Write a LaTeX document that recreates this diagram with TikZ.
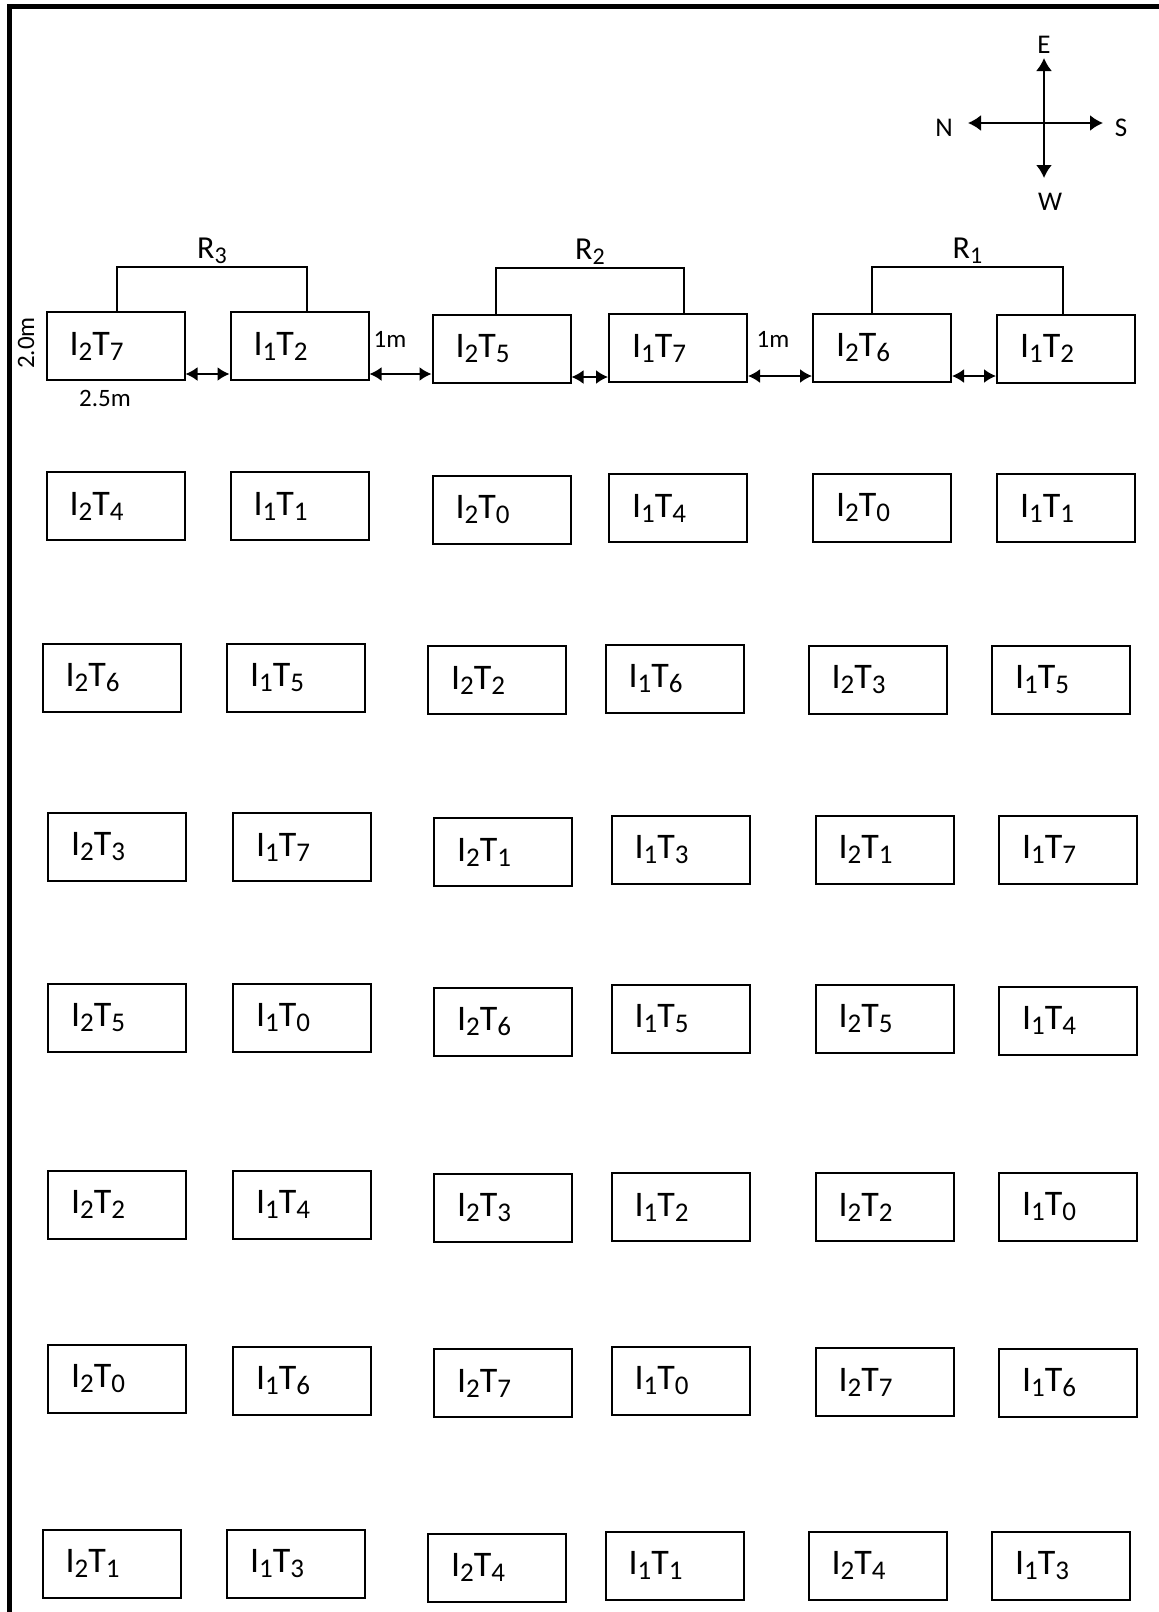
\documentclass[tikz,border=0pt]{standalone}
\usepackage{fontspec}
\setmainfont{Carlito}
\usetikzlibrary{arrows.meta,positioning,calc}
\newcommand{\sub}[2][13.5]{\raisebox{-2.5pt}{\fontsize{#1}{#1}\selectfont #2}}
\newcommand{\plt}[2]{I\sub{#1}T\sub{#2}}

\begin{document}
\begin{tikzpicture}[
  x=0.5pt, y=-0.5pt,
  every node/.style={font=\fontsize{12.5}{14}\selectfont},
  plot/.style={draw,line width=1pt,minimum width=69pt,minimum height=34pt,inner xsep=11.5pt,text width=46pt,align=left,font=\fontsize{18}{20}\selectfont},
  rep/.style={pos=0.25,above,inner sep=1.5pt,font=\fontsize{16}{18}\selectfont},
  dim/.style={{Latex[length=6pt,width=7pt]}-{Latex[length=6pt,width=7pt]},line width=1pt},
  brk/.style={line width=0.8pt},
  cmp/.style={-{Latex[length=6.5pt,width=8pt]},line width=1pt}
]
\useasboundingbox (0,0) rectangle (1159,1612);
\draw[line width=2.5pt] (9.5,1612) -- (9.5,6.5) -- (1159,6.5);

% plots, row by row
\foreach \n/\x/\y/\i/\t in {
  11/115.5/346/2/7, 12/299.5/346/1/2, 13/501.5/349/2/5, 14/678/348/1/7, 15/882/348/2/6, 16/1066/348.5/1/2,
  21/115.5/506/2/4, 22/299.5/506/1/1, 23/501.5/509.5/2/0, 24/678/508/1/4, 25/882/508/2/0, 26/1066/508/1/1,
  31/111.5/677.5/2/6, 32/296/677.5/1/5, 33/497/680/2/2, 34/674.5/678.5/1/6, 35/877.5/680/2/3, 36/1061/680/1/5,
  41/117/847/2/3, 42/302/847/1/7, 43/503/852/2/1, 44/680.5/849.5/1/3, 45/884.5/849.5/2/1, 46/1068/849.5/1/7,
  51/117/1018/2/5, 52/302/1018/1/0, 53/503/1021.5/2/6, 54/680.5/1019/1/5, 55/884.5/1019/2/5, 56/1068/1020.5/1/4,
  61/117/1204.5/2/2, 62/302/1204.5/1/4, 63/503/1208/2/3, 64/680.5/1207/1/2, 65/884.5/1207/2/2, 66/1068/1207/1/0,
  71/117/1379/2/0, 72/302/1380.5/1/6, 73/503/1383/2/7, 74/680.5/1380.5/1/0, 75/884.5/1382/2/7, 76/1068/1383/1/6,
  81/111.5/1563.5/2/1, 82/296/1563.5/1/3, 83/497/1567.5/2/4, 84/674.5/1565.5/1/1, 85/877.5/1565.5/2/4, 86/1061/1565.5/1/3}
  \node[plot] (b\n) at (\x,\y) {\plt{\i}{\t}};

% spacing arrows in the first row
\foreach \a/\b in {11/12,12/13,13/14,14/15,15/16}
  \draw[dim] ([yshift=3.5pt]b\a.south east) -- ([yshift=3.5pt]b\a.south east -| b\b.west);

% replications
\draw[brk] ([xshift=0.75pt]b11.north) -- ++(0,-44) -| node[rep] (r3) {R\sub[12]{3}} ([xshift=3.75pt]b12.north);
\draw[brk] ([xshift=-2.75pt]b13.north) -- ++(0,-46) -| node[rep] (r2) {R\sub[12]{2}} ([xshift=3pt]b14.north);
\draw[brk] ([xshift=-5pt]b15.north) -- ++(0,-46) -| node[rep] (r1) {R\sub[12]{1}} ([xshift=-1.5pt]b16.north);

\node (gap1) at (390,339) {1m};
\node (gap2) at (773,339) {1m};
\node[rotate=90] (hgt) at (26,343) {2.0m};
\node (wid) at (105,398) {2.5m};

% compass
\coordinate (cc) at (1044,123);
\coordinate (cE) at (1044,58);
\coordinate (cW) at (1044,178);
\coordinate (cN) at (968,123);
\coordinate (cS) at (1103,123);
\foreach \d in {E,W,N,S}
  \draw[cmp] (cc) -- (c\d);
\node[font=\fontsize{13.5}{15}\selectfont] (lE) at (1044,45) {E};
\node[font=\fontsize{13.5}{15}\selectfont] (lW) at (1050,202) {W};
\node[font=\fontsize{13.5}{15}\selectfont] (lN) at (944,128) {N};
\node[font=\fontsize{13.5}{15}\selectfont] (lS) at (1121,128) {S};
\end{tikzpicture}
\end{document}
